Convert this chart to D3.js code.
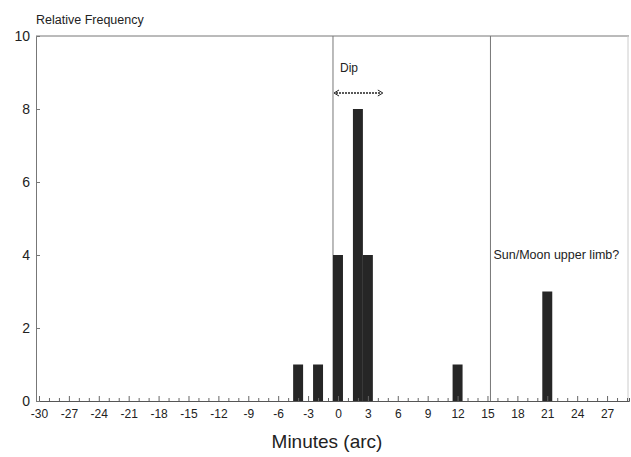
<!DOCTYPE html>
<html>
<head>
<meta charset="utf-8">
<script src="https://cdn.jsdelivr.net/npm/d3@7"></script>
<style>
  body { margin: 0; background: #fff; }
  text { font-family: "Liberation Sans", Arial, sans-serif; fill: #222; }
</style>
</head>
<body>
<div id="container"></div>
<script>
// bin centres (minutes of arc) and their counts
const minutes = [-4, -2, 0, 2, 3, 12, 21]
const counts = [1, 1, 4, 8, 4, 1, 3]
const xTicks = d3.range(-30, 28, 3)
const yTicks = [0, 2, 4, 6, 8, 10]
// vertical guide lines and their labels
const guideLines = [-0.5, 15.3]

const width = 631
const height = 457
const marginLeft = 36
const marginRight = 2
const marginTop = 36
const marginBottom = 56

const x = d3.scaleLinear()
    .domain([-30.3, 29.2])
    .range([marginLeft, width - marginRight])
const y = d3.scaleLinear()
    .domain([0, 10])
    .range([height - marginBottom, marginTop])

const svg = d3.create('svg')
    .attr('width', width)
    .attr('height', height)

// frame
svg.append('line')
    .attr('x1', marginLeft).attr('x2', width - marginRight)
    .attr('y1', marginTop).attr('y2', marginTop)
    .attr('stroke', '#777')
svg.append('line')
    .attr('x1', width - marginRight - 1).attr('x2', width - marginRight - 1)
    .attr('y1', marginTop).attr('y2', y(0))
    .attr('stroke', '#ccc')

// guide lines
svg.append('g')
  .selectAll('line')
  .data(guideLines)
  .enter()
  .append('line')
    .attr('x1', d => x(d)).attr('x2', d => x(d))
    .attr('y1', marginTop).attr('y2', y(0))
    .attr('stroke', '#777')
    .attr('stroke-width', 1)

// bars
svg.append('g')
  .selectAll('rect')
  .data(minutes)
  .enter()
  .append('rect')
    .attr('x', d => x(d - 0.5))
    .attr('width', d => x(d + 0.5) - x(d - 0.5))
    .attr('y', (d, i) => y(counts[i]))
    .attr('height', (d, i) => y(0) - y(counts[i]))
    .attr('fill', '#262626')

// x axis: minor ticks every minute, labels every 3
const xAxis = svg.append('g')
    .attr('transform', `translate(0,${y(0)})`)
    .call(d3.axisBottom(x)
        .tickValues(d3.range(-30, 30, 1))
        .tickSize(-3)
        .tickFormat(d => xTicks.includes(d) ? d : ''))
xAxis.select('.domain').attr('stroke', '#555')
xAxis.selectAll('.tick line').attr('stroke', '#666')
xAxis.selectAll('.tick').filter(d => d % 3 === 0).select('line').attr('y2', -5)
xAxis.selectAll('.tick text')
    .attr('y', 8)
    .style('font-size', '12px')
    .style('fill', '#222')

// y axis
const yAxis = svg.append('g')
    .attr('transform', `translate(${marginLeft},0)`)
    .call(d3.axisLeft(y)
        .tickValues(yTicks)
        .tickSize(-4)
        .tickFormat(d3.format('d')))
yAxis.select('.domain').attr('stroke', '#777')
yAxis.selectAll('.tick line').attr('stroke', '#777')
yAxis.selectAll('.tick').filter(d => d === 0 || d === 10).select('line').remove()
yAxis.selectAll('.tick text')
    .attr('x', -6)
    .style('font-size', '14px')
    .style('fill', '#222')

// axis titles
svg.append('text')
    .attr('x', 36)
    .attr('y', 24)
    .style('font-size', '12.5px')
    .text('Relative Frequency')
svg.append('text')
    .attr('x', 327)
    .attr('y', 448)
    .attr('text-anchor', 'middle')
    .style('font-size', '19px')
    .text('Minutes (arc)')

// annotations
svg.append('text')
    .attr('x', x(-0.5) + 7)
    .attr('y', 72)
    .style('font-size', '12px')
    .text('Dip')
svg.append('text')
    .attr('x', x(15.3) + 3)
    .attr('y', 259)
    .style('font-size', '12.5px')
    .text('Sun/Moon upper limb?')

// dip arrow
const ax1 = x(-0.5) + 1
const ax2 = x(4.5)
const ay = 93
svg.append('line')
    .attr('x1', ax1 + 2).attr('x2', ax2 - 2)
    .attr('y1', ay).attr('y2', ay)
    .attr('stroke', '#222')
    .attr('stroke-width', 1.3)
    .attr('stroke-dasharray', '2 1')
svg.append('path')
    .attr('d', `M${ax1 + 5},${ay - 3} L${ax1},${ay} L${ax1 + 5},${ay + 3} M${ax2 - 5},${ay - 3} L${ax2},${ay} L${ax2 - 5},${ay + 3}`)
    .attr('fill', 'none')
    .attr('stroke', '#222')

d3.select('#container').append(() => svg.node())
</script>
</body>
</html>
